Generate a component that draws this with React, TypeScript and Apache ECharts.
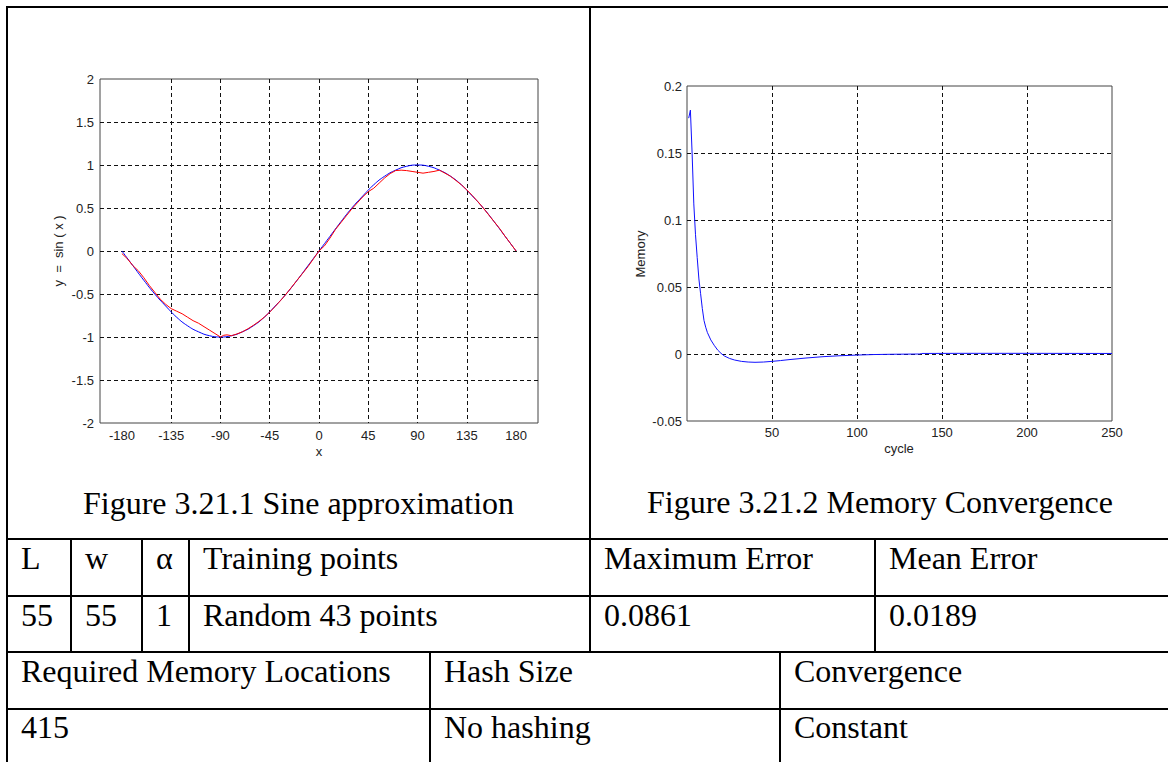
import React, { useEffect, useRef } from "react";
import * as echarts from "echarts";

// ---------- data ----------
const sineTicks = [-180, -135, -90, -45, 0, 45, 90, 135, 180];

// target curve (blue)
const sineX = [-180, -170, -160, -150, -140, -130, -120, -110, -100, -90, -80, -70, -60, -50, -40, -30, -20, -10, 0,
  10, 20, 30, 40, 50, 60, 70, 80, 90, 100, 110, 120, 130, 140, 150, 160, 170, 180];
const sineY = [0, -0.17, -0.34, -0.5, -0.64, -0.77, -0.87, -0.94, -0.985, -1, -0.985, -0.94, -0.87, -0.77, -0.64, -0.5, -0.34, -0.17, 0,
  0.17, 0.34, 0.5, 0.64, 0.77, 0.87, 0.94, 0.985, 1, 0.985, 0.94, 0.87, 0.77, 0.64, 0.5, 0.34, 0.17, 0];

// approximation (red)
const approxX = [-180, -175, -170, -165, -160, -155, -150, -145, -140, -135, -130, -125, -120, -115, -110, -105, -100, -95, -90,
  -87, -84, -80, -75, -70, -65, -60, -55, -50, -45, -40, -35, -30, -25, -20, -15, -10, -5, 0,
  5, 10, 15, 20, 25, 30, 35, 40, 45, 50, 55, 60, 65, 70, 75, 80, 85, 90, 95, 100, 105, 110, 115,
  120, 125, 130, 135, 140, 145, 150, 155, 160, 165, 170, 175, 180];
const approxY = [-0.03, -0.09, -0.17, -0.23, -0.31, -0.4, -0.48, -0.56, -0.62, -0.67, -0.7, -0.73, -0.77, -0.81, -0.84, -0.88, -0.92, -0.96, -1.0,
  -0.98, -0.975, -0.985, -0.965, -0.94, -0.905, -0.865, -0.82, -0.77, -0.71, -0.645, -0.575, -0.5, -0.42, -0.34, -0.26, -0.18, -0.09, 0.0,
  0.06, 0.15, 0.25, 0.33, 0.41, 0.49, 0.56, 0.63, 0.69, 0.73, 0.79, 0.85, 0.9, 0.935, 0.94, 0.935, 0.925, 0.915, 0.905, 0.915, 0.925, 0.94, 0.905,
  0.87, 0.82, 0.77, 0.71, 0.645, 0.575, 0.5, 0.42, 0.34, 0.26, 0.17, 0.085, 0.0];

// memory convergence (blue)
const cycles = [1, 2, 3, 4, 5, 6, 7, 8, 9, 10, 11, 12, 14, 16, 18, 20, 22, 25, 28, 32, 36, 40, 45, 50, 55, 60, 70, 80, 90, 100,
  110, 120, 137, 138, 160, 200, 250];
const memory = [0.176, 0.182, 0.15, 0.112, 0.089, 0.072, 0.056, 0.045, 0.034, 0.025, 0.02, 0.016, 0.0105, 0.0065, 0.003, 0.0005,
  -0.0015, -0.0033, -0.0045, -0.0055, -0.006, -0.0062, -0.006, -0.0055, -0.0049, -0.0042, -0.003, -0.002, -0.0013, -0.0008,
  -0.0004, -0.0002, 0, 0.0004, 0.0005, 0.0005, 0.0004];

// table texts
const captions = ["Figure 3.21.1 Sine approximation", "Figure 3.21.2 Memory Convergence"];
const paramHeaders = ["L", "w", "α", "Training points", "Maximum Error", "Mean Error"];
const paramValues = ["55", "55", "1", "Random 43 points", "0.0861", "0.0189"];
const memHeaders = ["Required Memory Locations", "Hash Size", "Convergence"];
const memValues = ["415", "No hashing", "Constant"];

// ---------- layout ----------
const W = 1168;
const H = 762;
const colsA = [7, 71, 142, 189, 590, 875];
const colsB = [7, 430, 780];
const rowLines = [539, 596, 652, 709];
const rowBaselines = [569, 626, 682, 738];
const serif = '"Liberation Serif", "Times New Roman", serif';
const sans = '"Liberation Sans", Arial, sans-serif';
const tableFont = 32;

function zip(xs: number[], ys: number[]) {
  return xs.map((x, i) => [x, ys[i]]);
}

function buildGraphic() {
  const g: any[] = [];
  const line = (x1: number, y1: number, x2: number, y2: number) =>
    g.push({ type: "line", shape: { x1, y1, x2, y2 }, style: { stroke: "#000", lineWidth: 2 }, z: 10 });
  const text = (t: string, x: number, y: number, opts: any = {}) =>
    g.push({
      type: "text",
      x,
      y,
      rotation: opts.rotation || 0,
      z: 10,
      style: {
        text: t,
        fill: opts.fill || "#000",
        fontSize: opts.fontSize || tableFont,
        fontFamily: opts.fontFamily || serif,
        align: opts.align || "left",
        textAlign: opts.align || "left",
        verticalAlign: "middle",
        textVerticalAlign: "middle",
      },
    });

  // borders
  line(6, 7, W, 7);
  line(7, 6, 7, H);
  rowLines.forEach((y) => line(7, y, W, y));
  line(590, 7, 590, 652);
  [71, 142, 189, 875].forEach((x) => line(x, 539, x, 652));
  [430, 780].forEach((x) => line(x, 652, x, H));

  // captions
  text(captions[0], 298.5, 503, { align: "center" });
  text(captions[1], 880, 502, { align: "center" });

  const off = 11;
  paramHeaders.forEach((t, i) => text(t, colsA[i] + 14, rowBaselines[0] - off));
  paramValues.forEach((t, i) => text(t, colsA[i] + 14, rowBaselines[1] - off));
  memHeaders.forEach((t, i) => text(t, colsB[i] + 14, rowBaselines[2] - off));
  memValues.forEach((t, i) => text(t, colsB[i] + 14, rowBaselines[3] - off));

  // axis titles
  const ax = { fontSize: 13, fontFamily: sans, fill: "#222", align: "center" };
  text("y  =  sin ( x )", 58, 251, { ...ax, rotation: Math.PI / 2 });
  text("x", 319, 451.5, ax);
  text("Memory", 640, 254, { ...ax, rotation: Math.PI / 2 });
  text("cycle", 899, 448.5, ax);
  return g;
}

const axisFont = { fontFamily: sans, fontSize: 13, color: "#222" };
const gridLine = {
  show: true,
  showMinLine: false,
  showMaxLine: false,
  lineStyle: { color: "#111", width: 1, type: [4, 3] as any },
};
const fmt = (v: number) => String(parseFloat(v.toFixed(4)));

export default function App() {
  const ref = useRef<HTMLDivElement>(null);
  useEffect(() => {
    if (!ref.current) return;
    const chart = echarts.init(ref.current, undefined, { renderer: "svg" });
    const option: any = {
      animation: false,
      backgroundColor: "#ffffff",
      grid: [
        { left: 100, top: 79, width: 438, height: 344, show: true, borderColor: "#444", borderWidth: 1, backgroundColor: "transparent" },
        { left: 687, top: 86, width: 425, height: 335, show: true, borderColor: "#444", borderWidth: 1, backgroundColor: "transparent" },
      ],
      xAxis: [
        {
          gridIndex: 0,
          type: "value",
          min: -200,
          max: 200,
          axisLine: { show: false },
          axisTick: { show: false, customValues: sineTicks },
          axisLabel: { customValues: sineTicks, margin: 6, ...axisFont, formatter: fmt },
          splitLine: gridLine,
        },
        {
          gridIndex: 1,
          type: "value",
          min: 0,
          max: 250,
          interval: 50,
          axisLine: { show: false },
          axisTick: { show: false },
          axisLabel: { showMinLabel: false, margin: 5, ...axisFont, formatter: fmt },
          splitLine: gridLine,
        },
      ],
      yAxis: [
        {
          gridIndex: 0,
          type: "value",
          min: -2,
          max: 2,
          interval: 0.5,
          axisLine: { show: false },
          axisTick: { show: false },
          axisLabel: { margin: 6, ...axisFont, formatter: fmt },
          splitLine: gridLine,
        },
        {
          gridIndex: 1,
          type: "value",
          min: -0.05,
          max: 0.2,
          interval: 0.05,
          axisLine: { show: false },
          axisTick: { show: false },
          axisLabel: { margin: 5, ...axisFont, formatter: fmt },
          splitLine: gridLine,
        },
      ],
      series: [
        {
          name: "sin(x)",
          type: "line",
          xAxisIndex: 0,
          yAxisIndex: 0,
          data: zip(sineX, sineY),
          smooth: true,
          symbol: "none",
          lineStyle: { color: "#0000ff", width: 1 },
          z: 3,
        },
        {
          name: "approximation",
          type: "line",
          xAxisIndex: 0,
          yAxisIndex: 0,
          data: zip(approxX, approxY),
          symbol: "none",
          lineStyle: { color: "#ff0000", width: 1 },
          z: 4,
        },
        {
          name: "Memory",
          type: "line",
          xAxisIndex: 1,
          yAxisIndex: 1,
          data: zip(cycles, memory),
          symbol: "none",
          lineStyle: { color: "#1010ff", width: 1 },
          z: 3,
        },
      ],
      graphic: buildGraphic(),
    };
    chart.setOption(option);
    return () => chart.dispose();
  }, []);
  return <div ref={ref} style={{ position: "absolute", left: 0, top: 0, width: W, height: H }} />;
}
